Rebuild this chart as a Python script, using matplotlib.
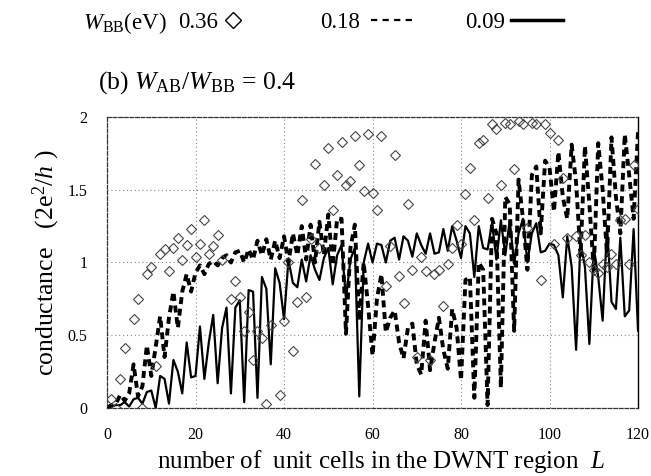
import matplotlib
matplotlib.use("Agg")
import matplotlib.pyplot as plt
from matplotlib.lines import Line2D

plt.rcParams['font.family'] = ['Liberation Serif', 'DejaVu Serif']
plt.rcParams['mathtext.fontset'] = 'custom'
plt.rcParams['mathtext.rm'] = 'Liberation Serif'
plt.rcParams['mathtext.it'] = 'Liberation Serif:italic'

# W_BB = 0.36 eV (diamonds), only the points that can be seen
L_036 = [1, 2, 3, 4, 6, 7, 8, 9, 10, 11, 12, 13, 14, 15, 16, 17, 18, 19, 20,
         21, 22, 23, 24, 25, 26, 28, 29, 30, 31, 32, 33, 34, 35, 36, 37, 39,
         40, 41, 42, 43, 44, 45, 46, 47, 48, 49, 50, 51, 52, 53, 54, 55, 56,
         57, 58, 59, 60, 61, 62, 63, 64, 65, 66, 67, 68, 69, 70, 71, 72, 73,
         74, 75, 76, 77, 78, 79, 80, 81, 82, 83, 84, 85, 86, 87, 88, 89, 90,
         91, 92, 93, 94, 95, 96, 97, 98, 99, 100, 101, 102, 103, 104, 106,
         107, 108, 109, 110, 111, 112, 113, 114, 115, 116, 117, 118, 119, 120]
G_036 = [0.06, 0.0, 0.20, 0.41, 0.61, 0.75, 0.0, 0.92, 0.97, 0.29, 1.06, 1.09,
         0.94, 1.10, 1.17, 1.02, 1.12, 1.23, 1.04, 1.13, 1.29, 1.06, 1.11,
         1.19, 1.02, 0.75, 0.87, 0.76, 0.53, 0.66, 0.33, 0.53, 0.48, 0.03,
         0.57, 0.09, 0.60, 1.00, 0.39, 0.73, 1.43, 0.76, 1.16, 1.68, 1.10,
         1.53, 1.79, 1.36, 1.60, 1.83, 1.53, 1.56, 1.87, 1.67, 1.49, 1.88,
         1.48, 1.36, 1.87, 0.84, 1.11, 1.74, 0.91, 0.72, 1.40, 0.95, 0.35,
         1.04, 0.94, 0.33, 0.92, 0.95, 0.70, 0.99, 1.10, 1.26, 1.13, 1.47,
         1.65, 1.29, 1.82, 1.84, 1.44, 1.95, 1.92, 1.53, 1.96, 1.95, 1.64,
         1.97, 1.95, 1.24, 1.96, 1.95, 0.88, 1.95, 1.89, 1.13, 1.84, 1.58,
         1.17, 1.18, 1.05, 1.19, 1.00, 0.95, 0.93, 0.99, 0.97, 1.06, 0.99,
         1.29, 1.30, 0.99, 1.67, 1.37]

# W_BB = 0.18 eV (dashed), L = 0..120
L_all = list(range(121))
G_018 = [0.00, 0.02, 0.03, 0.09, 0.05, 0.10, 0.30, 0.08, 0.15, 0.43,
         0.22, 0.42, 0.63, 0.35, 0.62, 0.80, 0.55, 0.80, 0.92, 0.80,
         0.93, 0.98, 0.92, 0.99, 1.01, 0.98, 1.03, 1.05, 1.00, 1.07,
         1.08, 1.00, 1.09, 1.02, 1.15, 1.05, 1.16, 1.02, 1.15, 1.03,
         1.18, 1.00, 1.20, 1.05, 1.25, 1.02, 1.26, 1.00, 1.28, 1.05,
         1.33, 0.98, 1.30, 1.30, 0.51, 1.10, 1.26, 0.60, 1.00, 0.70,
         0.36, 0.75, 0.92, 0.52, 0.62, 0.67, 0.45, 0.34, 0.55, 0.58,
         0.30, 0.23, 0.60, 0.26, 0.45, 0.62, 0.40, 0.27, 0.68, 0.55,
         0.19, 0.88, 0.90, 0.07, 1.00, 0.95, 0.02, 1.30, 1.20, 0.14,
         1.45, 1.40, 0.53, 1.57, 1.30, 0.95, 1.60, 1.66, 1.20, 1.70,
         1.65, 1.35, 1.76, 1.45, 1.30, 1.81, 1.55, 1.05, 1.80, 1.40,
         0.95, 1.82, 1.50, 1.05, 1.86, 1.45, 1.20, 1.88, 1.60, 1.30,
         1.90]

# W_BB = 0.09 eV (solid), L = 0..120
G_009 = [0.00, 0.01, 0.02, 0.02, 0.04, 0.01, 0.06, 0.07, 0.03, 0.11,
         0.12, 0.00, 0.22, 0.20, 0.03, 0.33, 0.25, 0.10, 0.45, 0.21,
         0.22, 0.56, 0.20, 0.45, 0.64, 0.17, 0.55, 0.69, 0.10, 0.69,
         0.74, 0.04, 0.81, 0.80, 0.07, 0.90, 0.82, 0.30, 0.96, 0.86,
         0.61, 1.02, 0.86, 0.83, 1.02, 0.87, 1.05, 0.95, 0.88, 1.03,
         1.10, 0.85, 1.05, 1.12, 0.75, 1.02, 1.10, 0.08, 1.00, 1.13,
         1.00, 1.13, 1.12, 1.00, 1.15, 1.17, 1.02, 1.18, 1.15, 1.04,
         1.20, 1.12, 1.06, 1.20, 1.06, 1.07, 1.23, 1.08, 1.25, 1.15,
         1.03, 1.25, 1.20, 0.90, 1.25, 1.10, 1.09, 1.27, 1.02, 1.29,
         1.05, 1.29, 0.99, 1.20, 1.30, 1.00, 1.20, 1.27, 1.07, 1.08,
         1.13, 1.12, 1.05, 0.76, 1.18, 0.97, 0.40, 1.14, 0.97, 0.44,
         1.10, 0.90, 0.60, 1.25, 0.73, 0.68, 1.17, 0.63, 0.67, 1.23,
         0.53]

x_ticks = [0, 20, 40, 60, 80, 100, 120]
y_ticks = [0, 0.5, 1, 1.5, 2]
y_ticklabels = ['0', '0.5', '1', '1.5', '2']

fig = plt.figure(figsize=(6.51, 4.76), dpi=100)
ax = fig.add_axes([0.1644, 0.1429, 0.8157, 0.6113])

ax.plot(L_all, G_009, color='black', lw=1.6, zorder=3)
ax.plot(L_all, G_018, color='black', lw=2.8, ls=(0, (1.8, 1.2)),
        dash_capstyle='butt', zorder=2)
ax.plot(L_036, G_036, ls='none', marker='D', ms=5.5, mfc='none',
        mec='#444444', mew=0.8, zorder=4)

ax.set_xlim(0, 120)
ax.set_ylim(0, 2)
ax.set_xticks(x_ticks)
ax.set_yticks(y_ticks)
ax.set_yticklabels(y_ticklabels)
ax.tick_params(length=0, labelsize=11.5, pad=14)
ax.grid(True, color='#888888', ls=(0, (1, 2.5)), lw=0.8)

for side in ['left', 'top', 'bottom']:
    ax.spines[side].set_linestyle((0, (3, 1.5)))
    ax.spines[side].set_color('#333333')
    ax.spines[side].set_linewidth(0.9)
ax.spines['right'].set_color('black')
ax.spines['right'].set_linewidth(1.0)

ax.set_xlabel('number of  unit cells in the DWNT region  $L$', fontsize=18,
              labelpad=3)
ax.set_ylabel('conductance   (2e$^2$/$h$ )', fontsize=18.5, labelpad=4)
ax.xaxis.set_label_coords(0.515, -0.138)

fig.text(0.150, 0.826, r'(b) $W_{\mathrm{AB}}/W_{\mathrm{BB}}$ = 0.4',
         fontsize=18.5, va='center')

# legend row: W_BB(eV)  0.36 <>   0.18 ----   0.09 ---
leg_y = 0.952
fig.text(0.1275, leg_y, r'$W_{\mathrm{BB}}$(eV)', fontsize=16.5, va='center')
keys = [
    (Line2D([], [], ls='none', marker='D', ms=8.5, mfc='none', mec='black',
            mew=1.0), '0.36', 0.2734, 0.85, 0.25),
    (Line2D([], [], color='black', lw=1.6, ls=(0, (2.8, 2.4))),
     '0.18', 0.4916, 1.9, 0.48),
    (Line2D([], [], color='black', lw=2.5), '0.09', 0.7143, 2.27, 0.26),
]
for handle, label, x0, hl, pad in keys:
    fig.legend([handle], [label], markerfirst=False, loc='center left',
               bbox_to_anchor=(x0, leg_y), frameon=False, fontsize=16.5,
               handlelength=hl, handletextpad=pad, borderpad=0,
               borderaxespad=0)

fig.savefig('out.png', dpi=100)
